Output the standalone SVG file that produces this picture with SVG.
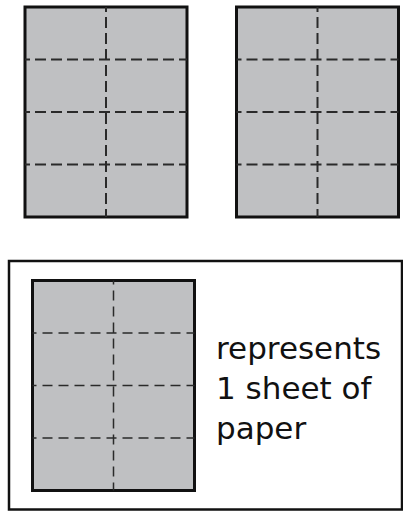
<svg xmlns="http://www.w3.org/2000/svg" width="403" height="511" viewBox="0 0 403 511">
<style>
.sheet{fill:#bfc0c2;stroke:#111;stroke-width:3}
.fold{stroke:#2a2a2a;stroke-width:2;stroke-dasharray:11 5;stroke-dashoffset:6;fill:none}
.fold2{stroke:#2a2a2a;stroke-width:1.5;stroke-dasharray:10 6;stroke-dashoffset:6;fill:none}
.box{fill:none;stroke:#111;stroke-width:2.5}
.lbl{font-family:"DejaVu Sans",Verdana,sans-serif;font-size:31px;fill:#111}
</style>
<g id="sheet1">
<rect class="sheet" x="25" y="7" width="162" height="210"/>
<path class="fold" d="M106 7V217M25 59.5H187M25 112H187M25 164.5H187"/>
</g>
<g id="sheet2">
<rect class="sheet" x="236.5" y="7" width="162" height="210"/>
<path class="fold" d="M317.5 7V217M236.5 59.5H398.5M236.5 112H398.5M236.5 164.5H398.5"/>
</g>
<g id="legend">
<rect class="box" x="9" y="261" width="393" height="248.5"/>
<rect class="sheet" x="32.5" y="280.5" width="162" height="210"/>
<path class="fold2" d="M113.5 280.5V490.5M32.5 333H194.5M32.5 385.5H194.5M32.5 438H194.5"/>
<text class="lbl" x="216" y="359">represents</text>
<text class="lbl" x="216" y="399">1 sheet of</text>
<text class="lbl" x="216" y="439">paper</text>
</g>
<g id="connectors"/>
</svg>
